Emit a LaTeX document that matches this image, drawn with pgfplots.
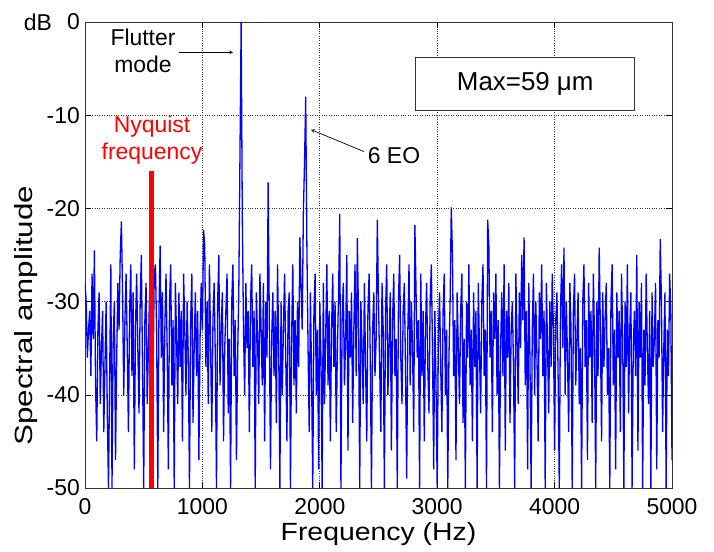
\documentclass[border=0pt]{standalone}
\usepackage{fontspec}
\setmainfont{Liberation Sans}
\newfontfamily\xlabfont{Liberation Sans}[FakeStretch=1.14]
\newfontfamily\ylabfont{Liberation Sans}[FakeStretch=1.26]
\usepackage{pgfplots}
\pgfplotsset{compat=1.18}

\pgfplotstableread[row sep=\\]{
x y\\
0 -28\\10 -30\\20 -36\\30 -33\\40 -31\\50 -38\\60 -27\\70 -34\\80 -24.5\\90 -39\\
100 -45\\110 -33\\120 -29\\130 -41\\140 -35\\150 -31\\160 -44\\170 -37\\180 -30\\190 -42\\
200 -50\\210 -38\\220 -26\\230 -50\\240 -34\\250 -30\\260 -47\\270 -36\\280 -28\\290 -33\\
300 -25\\310 -21.4\\320 -29\\330 -40\\340 -32\\350 -27\\360 -35\\370 -44\\380 -31\\390 -26\\
400 -38\\410 -29\\420 -48\\430 -33\\440 -27\\450 -35\\460 -42\\470 -30\\480 -25\\490 -37\\
500 -50\\510 -32\\520 -28\\530 -41\\540 -35\\550 -29\\560 -46\\570 -30\\580 -38\\590 -27\\
600 -26\\610 -33\\620 -50\\630 -31\\640 -24\\650 -36\\660 -29\\670 -44\\680 -33\\690 -27\\
700 -35\\710 -48\\720 -30\\730 -26\\740 -39\\750 -32\\760 -50\\770 -28\\780 -34\\790 -41\\
800 -29\\810 -37\\820 -31\\830 -45\\840 -27\\850 -33\\860 -40\\870 -30\\880 -36\\890 -50\\
900 -32\\910 -27\\920 -43\\930 -35\\940 -29\\950 -38\\960 -31\\970 -47\\980 -34\\990 -28\\
1000 -33\\1010 -22.3\\1020 -24\\1030 -37\\1040 -30\\1050 -41\\1060 -26\\1070 -35\\1080 -44\\1090 -32\\
1100 -28\\1110 -36\\1120 -50\\1130 -30\\1140 -25\\1150 -39\\1160 -33\\1170 -29\\1180 -45\\1190 -35\\
1200 -31\\1210 -27\\1220 -42\\1230 -34\\1240 -50\\1250 -30\\1260 -26\\1270 -38\\1280 -32\\1290 -47\\
1300 -36\\1310 -29\\1320 -14.3\\1330 0\\1340 -20.9\\1350 -33\\1360 -40\\1370 -28\\1380 -35\\1390 -31\\
1400 -44\\1410 -30\\1420 -26\\1430 -37\\1440 -31\\1450 -50\\1460 -29\\1470 -34\\1480 -41\\1490 -27\\
1500 -33\\1510 -39\\1520 -28\\1530 -45\\1540 -30\\1550 -36\\1560 -17.2\\1570 -32\\1580 -48\\1590 -34\\
1600 -29\\1610 -38\\1620 -31\\1630 -43\\1640 -26\\1650 -35\\1660 -50\\1670 -30\\1680 -40\\1690 -33\\
1700 -27\\1710 -36\\1720 -45\\1730 -31\\1740 -29\\1750 -50\\1760 -34\\1770 -26\\1780 -39\\1790 -32\\
1800 -42\\1810 -30\\1820 -37\\1830 -23.1\\1840 -28\\1850 -33\\1860 -20.5\\1870 -15\\1880 -8\\1890 -24\\
1900 -35\\1910 -44\\1920 -29\\1930 -38\\1940 -50\\1950 -31\\1960 -27\\1970 -40\\1980 -33\\1990 -48\\
2000 -30\\2010 -36\\2020 -50\\2030 -28\\2040 -41\\2050 -34\\2060 -26\\2070 -39\\2080 -31\\2090 -45\\
2100 -33\\2110 -27\\2120 -37\\2130 -30\\2140 -44\\2150 -35\\2160 -29\\2170 -20.6\\2180 -50\\2190 -32\\
2200 -28\\2210 -39\\2220 -34\\2230 -25\\2240 -46\\2250 -31\\2260 -36\\2270 -29\\2280 -43\\2290 -33\\
2300 -26\\2310 -38\\2320 -23.2\\2330 -32\\2340 -50\\2350 -30\\2360 -35\\2370 -41\\2380 -28\\2390 -37\\
2400 -45\\2410 -31\\2420 -27\\2430 -36\\2440 -50\\2450 -33\\2460 -29\\2470 -38\\2480 -34\\2490 -21.2\\
2500 -30\\2510 -37\\2520 -44\\2530 -28\\2540 -33\\2550 -50\\2560 -31\\2570 -26\\2580 -40\\2590 -35\\
2600 -29\\2610 -46\\2620 -32\\2630 -27\\2640 -38\\2650 -34\\2660 -50\\2670 -30\\2680 -25\\2690 -36\\
2700 -41\\2710 -31\\2720 -28\\2730 -37\\2740 -49\\2750 -33\\2760 -26\\2770 -39\\2780 -30\\2790 -35\\
2800 -44\\2810 -21.8\\2820 -29\\2830 -36\\2840 -32\\2850 -50\\2860 -27\\2870 -38\\2880 -31\\2890 -45\\
2900 -33\\2910 -28\\2920 -37\\2930 -42\\2940 -30\\2950 -26\\2960 -35\\2970 -48\\2980 -31\\2990 -39\\
3000 -50\\3010 -34\\3020 -29\\3030 -37\\3040 -44\\3050 -31\\3060 -27\\3070 -40\\3080 -33\\3090 -50\\
3100 -36\\3110 -30\\3120 -19.9\\3130 -25\\3140 -38\\3150 -32\\3160 -47\\3170 -29\\3180 -35\\3190 -41\\
3200 -31\\3210 -27\\3220 -43\\3230 -34\\3240 -50\\3250 -30\\3260 -36\\3270 -26\\3280 -39\\3290 -33\\
3300 -45\\3310 -29\\3320 -37\\3330 -31\\3340 -50\\3350 -28\\3360 -35\\3370 -42\\3380 -30\\3390 -26\\
3400 -38\\3410 -33\\3420 -50\\3430 -21.2\\3440 -24\\3450 -36\\3460 -31\\3470 -44\\3480 -29\\3490 -34\\
3500 -27\\3510 -40\\3520 -32\\3530 -50\\3540 -35\\3550 -29\\3560 -38\\3570 -26\\3580 -46\\3590 -31\\
3600 -36\\3610 -28\\3620 -43\\3630 -33\\3640 -30\\3650 -37\\3660 -50\\3670 -27\\3680 -34\\3690 -41\\
3700 -29\\3710 -35\\3720 -25\\3730 -32\\3740 -23.1\\3750 -39\\3760 -31\\3770 -48\\3780 -28\\3790 -36\\
3800 -50\\3810 -33\\3820 -27\\3830 -40\\3840 -30\\3850 -36\\3860 -45\\3870 -29\\3880 -34\\3890 -26\\
3900 -38\\3910 -31\\3920 -50\\3930 -28\\3940 -35\\3950 -42\\3960 -30\\3970 -37\\3980 -27\\3990 -33\\
4000 -46\\4010 -32\\4020 -29\\4030 -38\\4040 -50\\4050 -31\\4060 -26\\4070 -35\\4080 -24.2\\4090 -40\\
4100 -30\\4110 -36\\4120 -44\\4130 -28\\4140 -33\\4150 -50\\4160 -31\\4170 -27\\4180 -39\\4190 -34\\
4200 -29\\4210 -41\\4220 -35\\4230 -50\\4240 -30\\4250 -26\\4260 -37\\4270 -32\\4280 -47\\4290 -28\\
4300 -36\\4310 -31\\4320 -43\\4330 -27\\4340 -34\\4350 -50\\4360 -30\\4370 -38\\4380 -24.2\\4390 -33\\
4400 -45\\4410 -29\\4420 -37\\4430 -32\\4440 -28\\4450 -40\\4460 -35\\4470 -50\\4480 -30\\4490 -26\\
4500 -39\\4510 -33\\4520 -48\\4530 -29\\4540 -36\\4550 -31\\4560 -44\\4570 -27\\4580 -34\\4590 -50\\
4600 -30\\4610 -37\\4620 -26\\4630 -42\\4640 -33\\4650 -29\\4660 -50\\4670 -35\\4680 -31\\4690 -38\\
4700 -25\\4710 -46\\4720 -30\\4730 -36\\4740 -28\\4750 -50\\4760 -33\\4770 -39\\4780 -27\\4790 -35\\
4800 -41\\4810 -31\\4820 -50\\4830 -29\\4840 -37\\4850 -34\\4860 -28\\4870 -48\\4880 -32\\4890 -36\\
4900 -23.3\\4910 -30\\4920 -44\\4930 -35\\4940 -29\\4950 -50\\4960 -33\\4970 -38\\4980 -27\\4990 -31\\
5000 -47\\
}\spectrum

\begin{document}
\begin{tikzpicture}
\useasboundingbox (-85bp,-64bp) rectangle (629bp,488bp);
\begin{axis}[
    name=ax,
    at={(0,0)}, anchor=south west,
    scale only axis,
    width=587bp, height=466bp,
    xmin=0, xmax=5000,
    ymin=-50, ymax=0,
    xtick={0,1000,2000,3000,4000,5000},
    xticklabels={0,1000,2000,3000,4000,5000},
    ytick={-50,-40,-30,-20,-10,0},
    yticklabels={-50,-40,-30,-20,-10,0},
    tick align=inside,
    major tick length=6bp,
    tick style={black, line width=0.6bp},
    axis line style={black!80, line width=0.8bp},
    grid=major,
    grid style={black!80, dotted, line width=0.6bp},
    ticklabel style={font=\fontsize{23}{26}\selectfont, inner sep=0pt},
    xticklabel style={anchor=north, yshift=-10bp},
    yticklabel style={anchor=east, xshift=-5bp},
    xlabel={\xlabfont Frequency (Hz)},
    xlabel style={at={(axis description cs:0.5,0)}, anchor=base, yshift=-52bp, font=\fontsize{25}{28}\selectfont},
    ylabel={\ylabfont Spectral amplitude},
    ylabel style={at={(axis description cs:-0.0886,0.37)}, anchor=base, rotate=0, font=\fontsize{25}{28}\selectfont},
    clip=true,
]
\addplot[blue, line width=1.3bp, line join=bevel] table[x=x, y=y] {\spectrum};
\addplot[red, line width=4.5bp] coordinates {(565,-50) (565,-16)};

\node[font=\fontsize{23}{27}\selectfont, align=center] at (axis cs:494,-3.1) {Flutter\\mode};
\draw[-stealth, line width=0.7bp] (axis cs:801,-3.25) -- (axis cs:1261,-3.25);
\node[font=\fontsize{23}{27}\selectfont, align=center, text=red] at (axis cs:571,-12.7) {Nyquist\\frequency};
\node[font=\fontsize{23}{27}\selectfont] at (axis cs:2632,-14.3) {6 EO};
\draw[-stealth, line width=0.7bp] (axis cs:2376,-13.9) -- (axis cs:1925,-11.55);
\node[draw=black!80, fill=white, line width=0.8bp, minimum width=219bp, minimum height=53bp, font=\fontsize{26}{30}\selectfont] at (axis cs:3750,-6.6) {Max=59 μm};
\end{axis}
\node[anchor=east, font=\fontsize{23}{26}\selectfont, inner sep=0pt] at (-33bp,466bp) {dB};
\end{tikzpicture}
\end{document}
